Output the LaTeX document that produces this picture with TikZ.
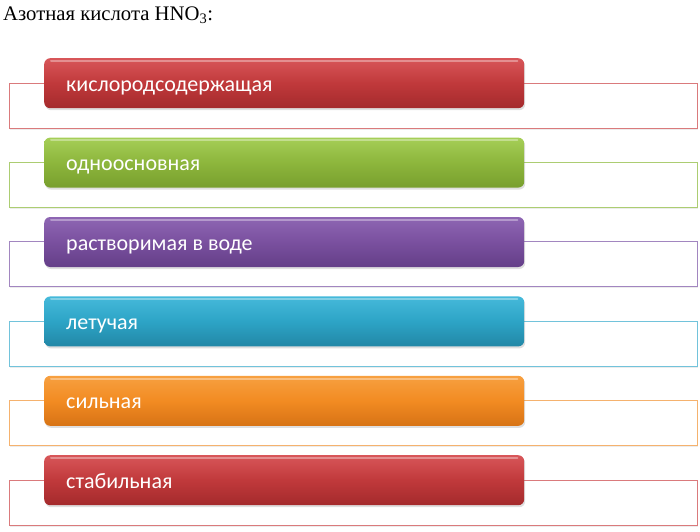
\documentclass[tikz,border=0pt]{standalone}
\usepackage{fontspec}
\setmainfont{Liberation Serif}
\newfontfamily\barfont{Carlito}
\usetikzlibrary{shadows}

% bar colours: top, middle, bottom, outline
\definecolor{redtop}{HTML}{D85659}
\definecolor{redmid}{HTML}{C0393B}
\definecolor{redbot}{HTML}{A42A2C}
\definecolor{redline}{HTML}{DA7A7C}
\definecolor{greentop}{HTML}{A5CE57}
\definecolor{greenmid}{HTML}{8DB63C}
\definecolor{greenbot}{HTML}{789F2E}
\definecolor{greenline}{HTML}{ACCD72}
\definecolor{purpletop}{HTML}{8E66B3}
\definecolor{purplemid}{HTML}{7A509F}
\definecolor{purplebot}{HTML}{643F88}
\definecolor{purpleline}{HTML}{A286C0}
\definecolor{cyantop}{HTML}{45B9DA}
\definecolor{cyanmid}{HTML}{2DA4C6}
\definecolor{cyanbot}{HTML}{2287A6}
\definecolor{cyanline}{HTML}{72C3DB}
\definecolor{orangetop}{HTML}{F7A040}
\definecolor{orangemid}{HTML}{F28B22}
\definecolor{orangebot}{HTML}{D77315}
\definecolor{orangeline}{HTML}{F5B26E}

\begin{document}
\begin{tikzpicture}[x=1pt,y=-1pt,
  itembar/.style={anchor=north west, rounded corners=6pt,
    minimum width=480pt, minimum height=50pt, inner ysep=0pt, inner xsep=22pt,
    text width=436pt, align=left, text height=33pt, text depth=17pt,
    text=white, font=\barfont\fontsize{22}{26}\selectfont,
    drop shadow={opacity=0.25, shadow xshift=1pt, shadow yshift=-2pt}},
  itemframe/.style={line width=0.8pt, fill=white,
    drop shadow={opacity=0.15, shadow xshift=1pt, shadow yshift=-1.5pt}}]
\useasboundingbox (0,0) rectangle (700,531);

% vertical step between the bars
\def\gap{79.4}

\node[anchor=base west, inner sep=0pt] (title) at (3,20)
  {\fontsize{20.7}{24}\selectfont Азотная кислота HNO\textsubscript{3}:};

\foreach \i/\col/\txt in {0/red/кислородсодержащая, 1/green/одноосновная,
    2/purple/растворимая в воде, 3/cyan/летучая, 4/orange/сильная, 5/red/стабильная} {
  \pgfmathsetmacro\top{58+\i*\gap}
  \draw[itemframe, draw=\col line] (9,\top+25) rectangle (697,\top+70); % frame behind
  \node[itembar, top color=\col top, bottom color=\col bot, middle color=\col mid]
    (bar\i) at (44,\top) {\spaceskip=0pt\xspaceskip=0pt\relax\txt};
  \draw[white, opacity=0.35, line width=2pt, line cap=round]
    ([xshift=7pt,yshift=-3pt]bar\i.north west) -- ([xshift=-7pt,yshift=-3pt]bar\i.north east);
}

\end{tikzpicture}
\end{document}
